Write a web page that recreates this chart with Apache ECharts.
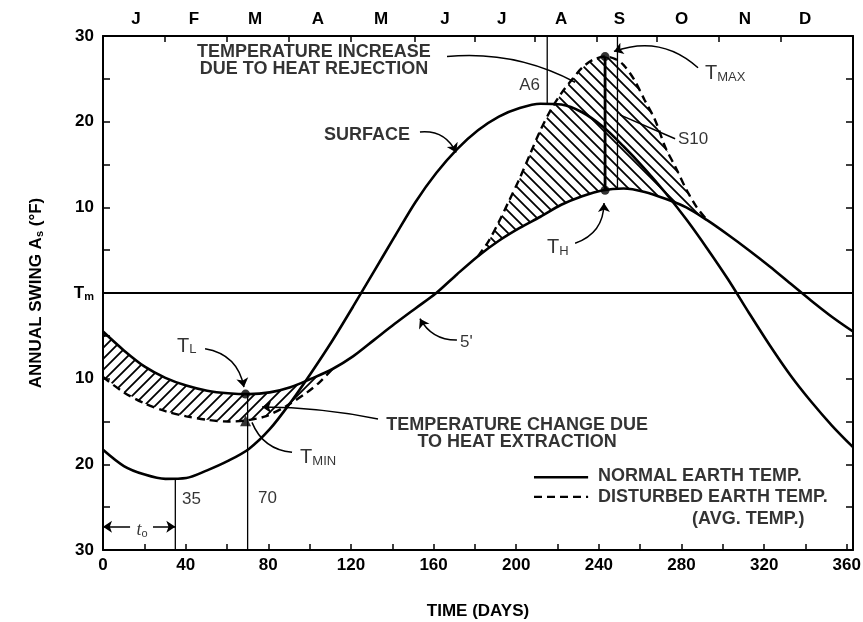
<!DOCTYPE html>
<html><head><meta charset="utf-8">
<script src="https://cdn.jsdelivr.net/npm/echarts@6/dist/echarts.min.js"></script>
<style>html,body{margin:0;padding:0;background:#fff}#c{width:863px;height:622px}</style>
</head><body><div id="c"></div>
<script>
// ---------- data ----------
const monthLabels = ['J','F','M','A','M','J','J','A','S','O','N','D'];
const monthDays = [16,44,73.6,104,134.6,165.5,193,221.7,250,280,310.7,339.8];
const monthTickDays = [30,60,90,120,151,180,209,239,268,298,328];
const xLabelDays = [0,40,80,120,160,200,240,280,320,360];

// normal earth temperature, surface (day, °F from Tm)
const surfaceCurve = [[0,-18.3],[10.1,-20.2],[20.2,-21.2],[30.2,-21.7],[40.3,-21.6],[50.4,-20.7],[60.5,-19.6],[70.6,-18.2],[80.7,-15.9],[90.7,-12.8],[100.8,-9.3],[110.9,-5.6],[121,-1.6],[131.1,2.5],[141.2,6.6],[151.2,10.6],[161.3,14.0],[171.4,16.8],[181.5,19.0],[191.6,20.6],[201.7,21.6],[211.7,22.1],[221.8,22.0],[231.9,21.1],[242,19.4],[252,17.1],[262.2,14.5],[272.2,11.7],[282.3,8.6],[292.4,5.2],[302.5,1.6],[312.6,-2.3],[322.7,-6.1],[332.7,-9.6],[342.8,-12.7],[352.9,-15.5],[363,-18.0]];
// normal earth temperature at 5'
const fiveFtCurve = [[0,-4.5],[10.1,-6.7],[20.2,-8.6],[30.2,-9.9],[40.3,-10.8],[50.4,-11.4],[60.5,-11.7],[70.6,-11.8],[80.7,-11.6],[90.7,-11.0],[100.8,-10.0],[110.9,-8.9],[121,-7.4],[131.1,-5.5],[141.2,-3.6],[151.2,-1.8],[161.3,0],[171.4,2.2],[181.5,4.3],[191.6,6.1],[201.7,7.6],[211.7,8.9],[221.8,10.3],[231.9,11.3],[242,12.0],[252,12.2],[262.2,11.8],[272.2,11.0],[282.3,10.0],[292.4,8.5],[302.5,6.8],[312.6,5.0],[322.7,3.1],[332.7,1.1],[342.8,-0.9],[352.9,-2.8],[363,-4.5]];
// disturbed earth temperature (heat extraction)
const disturbedLow = [[0,-9.8],[10.1,-11.6],[20.2,-12.9],[30.2,-13.8],[40.3,-14.4],[50.4,-14.8],[60.5,-15.0],[68.6,-14.9],[78.6,-14.4],[88.7,-13.2],[98.8,-11.6],[104.9,-10.4],[110.9,-8.9]];
// disturbed earth temperature (heat rejection)
const disturbedHigh = [[181.5,4.3],[186.5,6.0],[191.6,8.3],[196.6,10.8],[201.7,13.4],[206.7,16.2],[211.7,19.0],[216.8,21.4],[221.8,23.3],[226.9,24.9],[231.9,26.3],[237,27.2],[243,27.6],[248,27.3],[252,26.6],[257.1,24.9],[262.2,22.5],[267.2,20.2],[272.2,17.0],[277.3,14.6],[282.3,12.1],[287.4,10.0],[292.4,8.5]];
const meanLine = [[0,0],[363,0]];
// named points: T_L, T_MIN, T_MAX, T_H
const markerPoints = [[69,-11.8],[69,-14.9],[243,27.6],[243,12.0]];
// reference verticals
const guideLines = [[[35,-21.7],[35,-30]],[[70,-11.8],[70,-30]],[[215,30],[215,22.1]],[[249,30],[249,12.1]]];
const peakLine = [[243,27.6],[243,12.0]];
const legendNames = ['NORMAL EARTH TEMP.','DISTURBED EARTH TEMP.'];

// ---------- annotation layout ----------
const FONT = '"Liberation Sans", Arial, Helvetica, sans-serif';
const annotations = [
  {text:'TEMPERATURE INCREASE\nDUE TO HEAT REJECTION', at:[102.1,27.1], align:'center', kind:'note'},
  {text:'TEMPERATURE CHANGE DUE\nTO HEAT EXTRACTION', at:[200.4,-16.4], align:'center', kind:'note'},
  {text:'SURFACE', at:[148.6,18.4], align:'right', kind:'note'},
  {text:legendNames[0], at:[239.6,-21.4], align:'left', kind:'note'},
  {text:legendNames[1], at:[239.6,-23.8], align:'left', kind:'note'},
  {text:'(AVG. TEMP.)', at:[285.1,-26.4], align:'left', kind:'note'},
  {text:'A6', at:[211.5,24.2], align:'right', kind:'plain'},
  {text:'S10', at:[278.3,17.9], align:'left', kind:'plain'},
  {text:"5'", at:[172.8,-5.8], align:'left', kind:'plain'},
  {text:'35', at:[38.2,-24.1], align:'left', kind:'plain'},
  {text:'70', at:[75,-24], align:'left', kind:'plain'},
  {text:'{t|T}{s|MAX}', at:[291.4,25.7], align:'left', kind:'sym'},
  {text:'{t|T}{s|H}', at:[214.9,5.4], align:'left', kind:'sym'},
  {text:'{t|T}{s|L}', at:[35.8,-6.1], align:'left', kind:'sym'},
  {text:'{t|T}{s|MIN}', at:[95.4,-19.1], align:'left', kind:'sym'},
  {text:'{i|t}{o|o}', at:[18.9,-27.6], align:'center', kind:'sym'}
];
const legendSamples = [[[208.6,-21.5],[234.8,-21.5]],[[208.6,-23.8],[234.8,-23.8]]];
const leaders = [
  {from:[166.5,27.6], to:[228.5,24.6], curve:0.15, arrow:false},
  {from:[288,26.3], to:[247.3,28.2], curve:-0.3, arrow:true},
  {from:[276.9,18.0], to:[250.2,20.8], curve:0, arrow:false},
  {from:[153.4,18.8], to:[170.9,16.4], curve:0.35, arrow:true},
  {from:[171.3,-5.5], to:[153.4,-3.0], curve:0.3, arrow:true},
  {from:[228.5,5.8], to:[242.5,10.5], curve:-0.35, arrow:true},
  {from:[49.4,-6.5], to:[68.2,-11], curve:0.35, arrow:true},
  {from:[91.5,-18.6], to:[72.1,-15.1], curve:0.3, arrow:false},
  {from:[133.1,-14.7], to:[77,-13.3], curve:-0.05, arrow:true},
  {from:[13.1,-27.3], to:[0,-27.3], curve:0, arrow:true},
  {from:[24.2,-27.3], to:[35,-27.3], curve:0, arrow:true}
];

// ---------- helpers ----------
function hatch(size, dir){
  const c = document.createElement('canvas');
  c.width = size; c.height = size;
  const g = c.getContext('2d');
  g.strokeStyle = '#000'; g.lineWidth = 1.8;
  g.beginPath();
  if (dir === '/') {
    g.moveTo(0,size); g.lineTo(size,0);
    g.moveTo(-size/2,size/2); g.lineTo(size/2,-size/2);
    g.moveTo(size/2,size*1.5); g.lineTo(size*1.5,size/2);
  } else {
    g.moveTo(0,0); g.lineTo(size,size);
    g.moveTo(-size/2,size/2); g.lineTo(size/2,size*1.5);
    g.moveTo(size/2,-size/2); g.lineTo(size*1.5,size/2);
  }
  g.stroke();
  return c;
}
const hatchRegions = [
  {upper: fiveFtCurve.filter(p => p[0] <= 110.9), lower: disturbedLow, pat: hatch(11,'/')},
  {upper: disturbedHigh, lower: fiveFtCurve.filter(p => p[0] >= 181.5 && p[0] <= 292.4), pat: hatch(11,'\\')}
];

const txt = {color:'#000', fontFamily:FONT};
const richSym = {
  t:{...txt, fontSize:20, verticalAlign:'bottom', lineHeight:22},
  s:{...txt, fontSize:13, verticalAlign:'bottom', lineHeight:22},
  i:{...txt, fontSize:18, fontStyle:'italic', fontFamily:'"Liberation Serif", serif', verticalAlign:'bottom', lineHeight:20},
  o:{...txt, fontSize:11, verticalAlign:'bottom', lineHeight:20}
};
function annLabel(a){
  const base = {show:true, position:'inside', align:a.align, verticalAlign:'middle', formatter:a.text, ...txt};
  if (a.kind === 'note') return {...base, fontSize:18, fontWeight:'bold', lineHeight:17};
  if (a.kind === 'plain') return {...base, fontSize:17, fontWeight:'normal'};
  return {...base, rich:richSym};
}
function lineSeries(data, opts){
  return Object.assign({type:'line', data, symbol:'none', smooth:false, silent:true,
    lineStyle:{color:'#000', width:1.3}, z:4}, opts||{});
}
function leaderSeries(list, withArrow){
  return {type:'lines', coordinateSystem:'cartesian2d', silent:true, z:6, polyline:false,
    symbol: withArrow ? ['none','arrow'] : ['none','none'], symbolSize:9,
    lineStyle:{color:'#000', width:1.5, opacity:1},
    data:list.filter(l => l.arrow === withArrow).map(l => ({coords:[l.from, l.to], lineStyle:{curveness:l.curve}}))};
}

const axisText = {color:'#000', fontFamily:FONT, fontWeight:'bold', fontSize:17};
const axisLine = {show:true, onZero:false, lineStyle:{color:'#000', width:2}};
const smoothCurve = {type:'line', smooth:0.3, symbol:'none', silent:true, z:5, itemStyle:{color:'#000'}};
const option = {
  animation:false,
  backgroundColor:'#fff',
  grid:{left:103, right:10, top:36, bottom:72, outerBoundsMode:'none', containLabel:false},
  xAxis:[
    {type:'value', min:0, max:363, interval:20, position:'bottom',
     name:'TIME (DAYS)', nameLocation:'middle', nameGap:53, nameTextStyle:{...axisText},
     axisLine, axisTick:{show:true, inside:true, length:6, lineStyle:{color:'#000', width:1.5}},
     axisLabel:{...axisText, margin:7, showMaxLabel:false, formatter:v => xLabelDays.includes(v) ? String(v) : ''},
     splitLine:{show:false}},
    {type:'value', min:0, max:363, position:'top',
     axisLine, axisTick:{show:true, inside:true, length:6, customValues:monthTickDays, lineStyle:{color:'#000', width:1.5}},
     axisLabel:{...axisText, margin:8, customValues:monthDays, formatter:v => monthLabels[monthDays.indexOf(v)] || ''},
     splitLine:{show:false}}
  ],
  yAxis:[
    {type:'value', min:-30, max:30, interval:5, position:'left',
     name:'ANNUAL SWING A{s|s} (°F)', nameLocation:'middle', nameGap:58, nameRotate:90,
     nameTextStyle:{...axisText, rich:{s:{...txt, fontWeight:'bold', fontSize:11, verticalAlign:'bottom', lineHeight:18}}},
     axisLine, axisTick:{show:true, inside:true, length:7, lineStyle:{color:'#000', width:1.5}},
     axisLabel:{...axisText, margin:9,
       formatter:v => v % 10 !== 0 ? '' : (v === 0 ? '{t|T}{m|m}' : String(Math.abs(v))),
       rich:{t:{...txt, fontWeight:'bold', fontSize:17, verticalAlign:'bottom', lineHeight:18},
             m:{...txt, fontWeight:'bold', fontSize:11, verticalAlign:'bottom', lineHeight:18}}},
     splitLine:{show:false}},
    {type:'value', min:-30, max:30, interval:5, position:'right',
     axisLine, axisTick:{show:true, inside:true, length:7, lineStyle:{color:'#000', width:1.5}},
     axisLabel:{show:false}, splitLine:{show:false}}
  ],
  series:[
    {type:'custom', coordinateSystem:'cartesian2d', silent:true, z:1, clip:true,
     data:[[0,0],[1,0]],
     renderItem:(params, api) => {
       const r = hatchRegions[params.dataIndex];
       const pts = r.upper.concat(r.lower.slice().reverse()).map(p => api.coord(p));
       return {type:'polygon', shape:{points:pts, smooth:0}, style:{fill:{image:r.pat, repeat:'repeat'}, stroke:null}};
     }},
    lineSeries(meanLine, {lineStyle:{color:'#000', width:1.8}}),
    ...guideLines.map(g => lineSeries(g)),
    lineSeries(peakLine, {lineStyle:{color:'#000', width:2.8}}),
    {...smoothCurve, name:legendNames[0], data:surfaceCurve, lineStyle:{color:'#000', width:2.6}},
    {...smoothCurve, name:legendNames[0], data:fiveFtCurve, lineStyle:{color:'#000', width:2.6}},
    {...smoothCurve, name:legendNames[1], data:disturbedLow, lineStyle:{color:'#000', width:2.4, type:[8,5]}},
    {...smoothCurve, name:legendNames[1], data:disturbedHigh, lineStyle:{color:'#000', width:2.4, type:[8,5]}},
    lineSeries(legendSamples[0], {lineStyle:{color:'#000', width:2.4}}),
    lineSeries(legendSamples[1], {lineStyle:{color:'#000', width:2.4, type:[8,5]}}),
    {type:'scatter', silent:true, z:6,
     data:markerPoints.map((p,i) => ({value:p, symbol: i === 1 ? 'triangle' : 'circle', symbolSize: i === 1 ? 11 : 9})),
     itemStyle:{color:'#000'}},
    leaderSeries(leaders, true),
    leaderSeries(leaders, false),
    {type:'scatter', silent:true, z:7, symbol:'circle', symbolSize:1,
     itemStyle:{color:'rgba(0,0,0,0)'},
     data:annotations.map(a => ({value:a.at, label:annLabel(a)}))}
  ]
};
const chart = echarts.init(document.getElementById('c'), null, {renderer:'canvas'});
chart.setOption(option);
</script>
</body></html>
